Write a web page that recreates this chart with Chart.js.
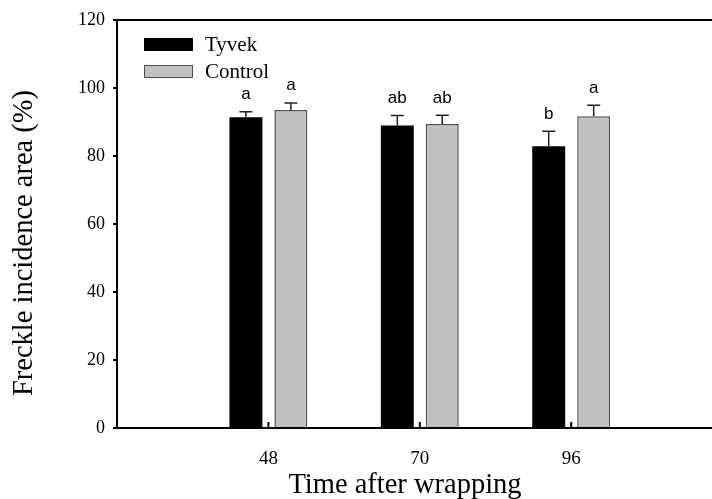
<!DOCTYPE html>
<html>
<head>
<meta charset="utf-8">
<script src="https://cdn.jsdelivr.net/npm/chart.js@4"></script>
<style>
  html, body { margin: 0; padding: 0; background: #fff; }
  #wrap { width: 712px; height: 499px; }
</style>
</head>
<body>
<div id="wrap"><canvas id="chart" width="712" height="499"></canvas></div>
<script>
// data
const categories = ['48', '70', '96'];
const tyvek = [91.4, 89.0, 82.9];
const tyvekErr = [1.6, 2.9, 4.4];
const tyvekLetters = ['a', 'ab', 'b'];
const control = [93.5, 89.4, 91.7];
const controlErr = [2.1, 2.6, 3.2];
const controlLetters = ['a', 'ab', 'a'];
const yTicks = [0, 20, 40, 60, 80, 100, 120];
const xTitle = 'Time after wrapping';
const yTitle = 'Freckle incidence area (%)';

const serif = '"Liberation Serif", "Times New Roman", serif';

const errors = [tyvekErr, controlErr];
const letters = [tyvekLetters, controlLetters];

// upper error bars, letters, legend, frame and axis titles
const extras = {
  id: 'extras',
  afterDatasetsDraw(chart) {
    const ctx = chart.ctx;
    const y = chart.scales.y;
    const x = chart.scales.x;
    const area = chart.chartArea;
    ctx.save();
    chart.data.datasets.forEach((ds, di) => {
      chart.getDatasetMeta(di).data.forEach((bar, i) => {
        const top = y.getPixelForValue(ds.data[i].y + errors[di][i]);
        ctx.strokeStyle = '#202020';
        ctx.lineWidth = 1.5;
        ctx.beginPath();
        ctx.moveTo(bar.x, bar.y);
        ctx.lineTo(bar.x, top);
        ctx.moveTo(bar.x - 6.5, top);
        ctx.lineTo(bar.x + 6.5, top);
        ctx.stroke();
        ctx.fillStyle = '#000';
        ctx.font = '17px "Liberation Sans", Arial, sans-serif';
        ctx.textAlign = 'center';
        ctx.textBaseline = 'alphabetic';
        ctx.fillText(letters[di][i], bar.x, top - 12.5);
      });
    });

    // top frame line
    ctx.strokeStyle = '#000';
    ctx.lineWidth = 2;
    ctx.beginPath();
    ctx.moveTo(area.left - 1, area.top);
    ctx.lineTo(area.right, area.top);
    ctx.stroke();

    // inward x ticks
    ctx.lineWidth = 2;
    x.ticks.forEach(t => {
      const px = x.getPixelForValue(t.value);
      ctx.beginPath();
      ctx.moveTo(px, area.bottom);
      ctx.lineTo(px, area.bottom - 6);
      ctx.stroke();
    });

    // legend
    ctx.font = '21px ' + serif;
    ctx.textAlign = 'left';
    ctx.textBaseline = 'middle';
    chart.data.datasets.forEach((ds, di) => {
      const ly = 38 + di * 27;
      ctx.fillStyle = ds.backgroundColor;
      ctx.fillRect(144, ly, 49, 13);
      ctx.strokeStyle = ds.borderColor;
      ctx.lineWidth = 1;
      ctx.strokeRect(144.5, ly + 0.5, 48, 12);
      ctx.fillStyle = '#000';
      ctx.fillText(ds.label, 205, ly + 7);
    });

    // axis titles
    ctx.font = '28.5px ' + serif;
    ctx.textAlign = 'center';
    ctx.textBaseline = 'alphabetic';
    ctx.fillText(xTitle, 405, 493);
    ctx.translate(32, 243);
    ctx.rotate(-Math.PI / 2);
    ctx.fillText(yTitle, 0, 0);
    ctx.restore();
  }
};

new Chart(document.getElementById('chart'), {
  type: 'bar',
  data: {
    datasets: [
      {
        label: 'Tyvek',
        data: tyvek.map((v, i) => ({ x: i + 1, y: v })),
        backgroundColor: '#000000',
        borderColor: '#000000',
        borderWidth: 0
      },
      {
        label: 'Control',
        data: control.map((v, i) => ({ x: i + 1, y: v })),
        backgroundColor: '#c0c0c0',
        borderColor: '#505050',
        borderWidth: 1.5
      }
    ]
  },
  options: {
    responsive: false,
    animation: false,
    categoryPercentage: 0.594,
    barPercentage: 0.733,
    layout: { padding: { top: 20, right: 0, left: 0, bottom: 0 } },
    plugins: {
      legend: { display: false },
      tooltip: { enabled: false }
    },
    scales: {
      x: {
        type: 'linear',
        offset: false,
        min: 0,
        max: 3.93,
        afterBuildTicks: axis => {
          axis.ticks = categories.map((c, i) => ({ value: i + 1 }));
        },
        afterFit: axis => { axis.height = 71; },
        ticks: {
          callback: (v) => categories[v - 1],
          font: { family: serif, size: 19 },
          color: '#000',
          padding: 12,
          maxRotation: 0
        },
        grid: { display: false },
        border: { display: true, color: '#000', width: 2 }
      },
      y: {
        min: 0,
        max: 120,
        afterBuildTicks: axis => {
          axis.ticks = yTicks.map(v => ({ value: v }));
        },
        afterFit: axis => { axis.width = 117; },
        ticks: {
          font: { family: serif, size: 18 },
          color: '#000',
          padding: 8
        },
        grid: {
          drawOnChartArea: false,
          drawTicks: true,
          tickLength: 4,
          color: '#000',
          lineWidth: 2
        },
        border: { display: true, color: '#000', width: 2 }
      }
    }
  },
  plugins: [extras]
});
</script>
</body>
</html>
